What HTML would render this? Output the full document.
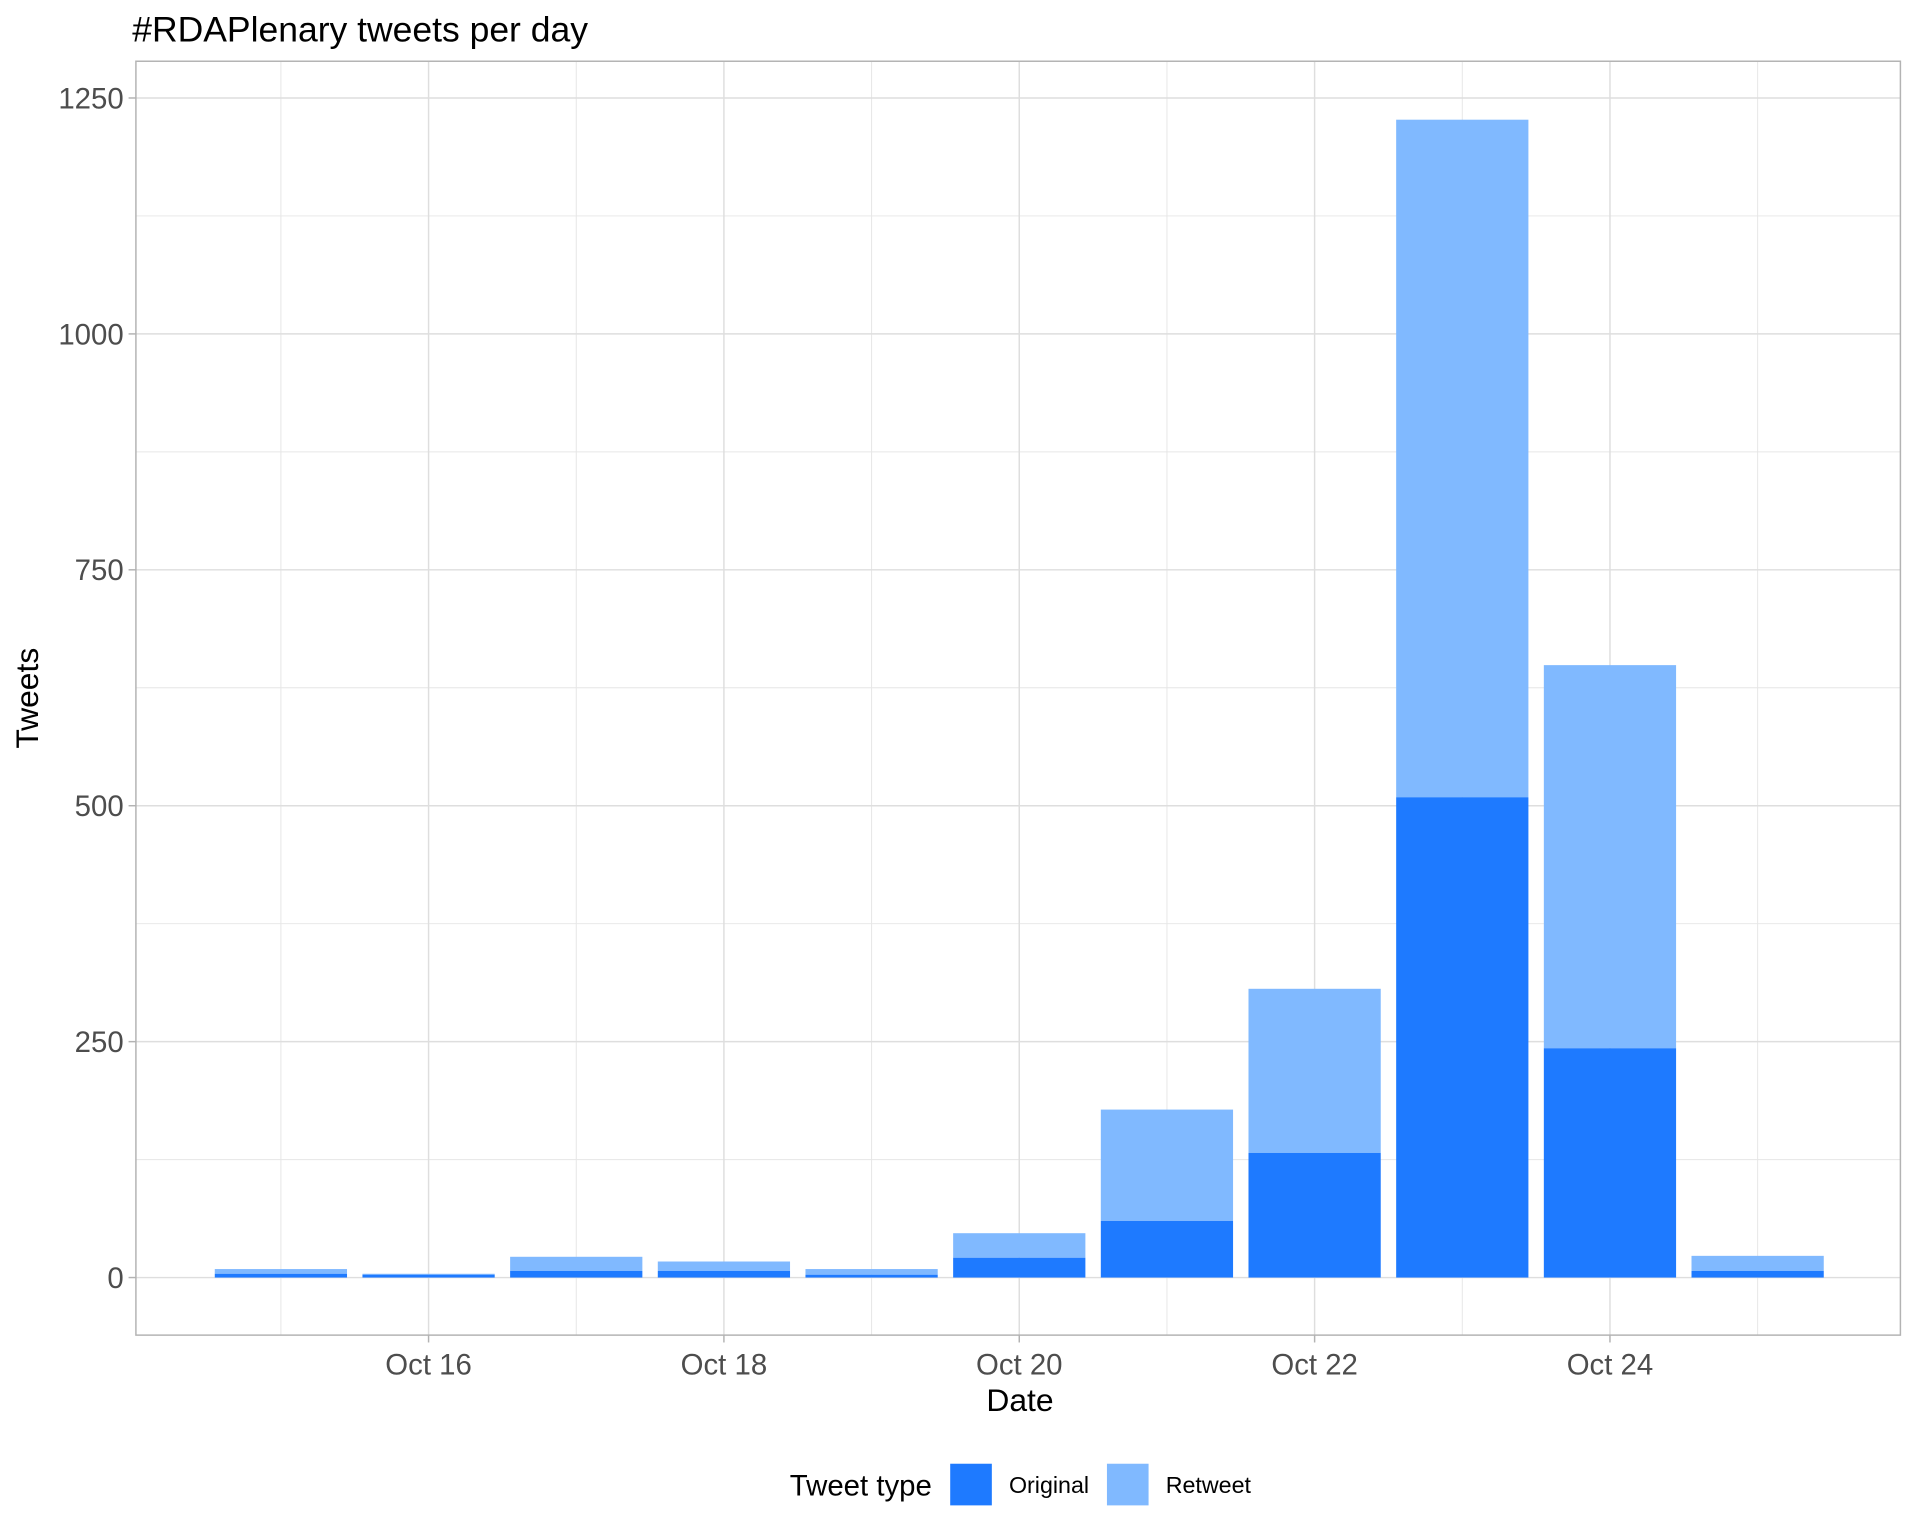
<!DOCTYPE html>
<html><head><meta charset="utf-8"><style>
html,body{margin:0;padding:0;background:#fff;}
svg{display:block;font-family:"Liberation Sans",Arial,sans-serif;}
</style></head><body>
<svg id="chart" width="1920" height="1536" viewBox="0 0 1568 1254" preserveAspectRatio="none" xmlns="http://www.w3.org/2000/svg">
<rect x="0" y="0" width="1568" height="1254" fill="#fff"/>
<text x="108" y="34" font-size="29" fill="#000">#RDAPlenary tweets per day</text>
<g id="grid"></g>
<g id="bars"></g>
<rect x="111" y="50" width="1441" height="1040" fill="none" stroke="#b3b3b3" stroke-width="1.2"/>
<g id="axes"></g>
<text x="833" y="1152" font-size="26" text-anchor="middle" fill="#000">Date</text>
<text transform="translate(31,570) rotate(-90)" font-size="26" text-anchor="middle" fill="#000">Tweets</text>
<g>
<text x="645" y="1221" font-size="24" fill="#000">Tweet type</text>
<rect x="776" y="1195" width="34" height="34" fill="#1e7aff"/>
<text x="824" y="1219" font-size="19" fill="#000">Original</text>
<rect x="904" y="1195" width="34" height="34" fill="#80b9ff"/>
<text x="952" y="1219" font-size="19" fill="#000">Retweet</text>
</g>
</svg>
<script>
const days = [15,16,17,18,19,20,21,22,23,24,25];
const originalCounts = [4,3,7,7,3,21,60,132,509,243,7];
const retweetCounts = [5,1,15,10,6,26,118,174,718,406,16];
const yTicks = [0,250,500,750,1000,1250];
const yMinor = [125,375,625,875,1125];
const xTickDays = [16,18,20,22,24];
const xTickLabels = ["Oct 16","Oct 18","Oct 20","Oct 22","Oct 24"];
const xMinorDays = [15,17,19,21,23,25];

const NS = "http://www.w3.org/2000/svg";
const L = 111, R = 1552, T = 50, B = 1090;
function xScale(d){ return 350 + (d - 16) * 120.6; }
function yScale(v){ return 1043 - v * 0.7704; }
function mk(tag, attrs, parent){ const e = document.createElementNS(NS, tag); for (const k in attrs) e.setAttribute(k, attrs[k]); parent.appendChild(e); return e; }

const grid = document.getElementById('grid');
const axes = document.getElementById('axes');
const bars = document.getElementById('bars');

yMinor.forEach(v => {
  const l = mk('line', {x1:L, x2:R, y1:yScale(v), y2:yScale(v), stroke:'#e6e6e6', 'stroke-width':0.8}, grid);
  
  
});
xMinorDays.forEach(d => {
  const l = mk('line', {x1:xScale(d), x2:xScale(d), y1:T, y2:B, stroke:'#e6e6e6', 'stroke-width':0.8}, grid);
  
  
});
yTicks.forEach(v => {
  const y = yScale(v);
  const l = mk('line', {x1:L, x2:R, y1:y, y2:y, stroke:'#dedede', 'stroke-width':1.2}, grid);
  
  
  const t = mk('line', {x1:105, x2:L, y1:y, y2:y, stroke:'#b3b3b3', 'stroke-width':1.2}, axes);
  
  
  const tx = mk('text', {x:101, y:y+8.5, 'font-size':24, 'text-anchor':'end', fill:'#4d4d4d'}, axes);
  tx.textContent = v;
  
  
});
xTickDays.forEach((d, i) => {
  const x = xScale(d);
  const l = mk('line', {x1:x, x2:x, y1:T, y2:B, stroke:'#dedede', 'stroke-width':1.2}, grid);
  
  
  const t = mk('line', {x1:x, x2:x, y1:B, y2:B+6, stroke:'#b3b3b3', 'stroke-width':1.2}, axes);
  
  
  const tx = mk('text', {x:x, y:1122, 'font-size':24, 'text-anchor':'middle', fill:'#4d4d4d'}, axes);
  tx.textContent = xTickLabels[i];
  
  
});

const bw = 108;
days.forEach((d, i) => {
  const cx = xScale(d);
  const o = originalCounts[i], r = retweetCounts[i];
  const rb = mk('rect', {x:cx-bw/2, y:yScale(o+r), width:bw, height:yScale(o)-yScale(o+r), fill:'#80b9ff'}, bars);
  
  
  const ob = mk('rect', {x:cx-bw/2, y:yScale(o), width:bw, height:yScale(0)-yScale(o), fill:'#1e7aff'}, bars);
  
  
});
</script>
</body></html>
